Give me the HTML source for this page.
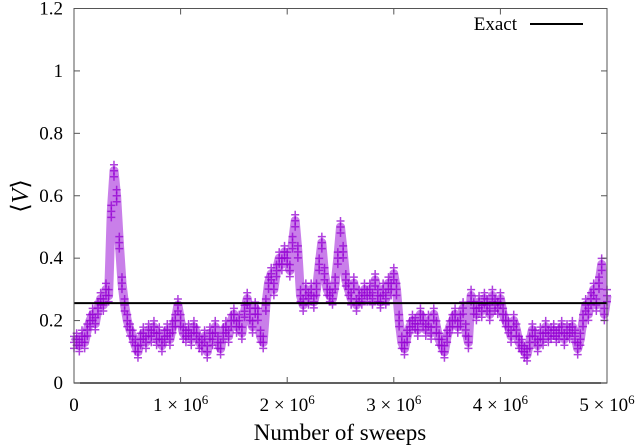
<!DOCTYPE html>
<html><head><meta charset="utf-8"><style>
html,body{margin:0;padding:0;background:#fff;}
svg{display:block;font-family:"Liberation Serif",serif;}
</style></head><body>
<svg id="chart" width="640" height="446" viewBox="0 0 640 446" xmlns="http://www.w3.org/2000/svg">
<g id="series"></g>
<g id="axes"></g>
</svg>
<script>
const xTicks = [0, 1e6, 2e6, 3e6, 4e6, 5e6];
const xTickLabels = ["0", "1", "2", "3", "4", "5"];
const yTicks = [0, 0.2, 0.4, 0.6, 0.8, 1, 1.2];
const yTickLabels = ["0", "0.2", "0.4", "0.6", "0.8", "1", "1.2"];
const exactValue = 0.256;
const sweepStep = 25000;
const values = [
0.13,0.14,0.12,0.15,0.13,0.17,0.2,0.22,0.19,0.24,
0.27,0.25,0.3,0.28,0.55,0.68,0.6,0.45,0.32,0.25,
0.2,0.17,0.15,0.12,0.1,0.14,0.16,0.13,0.17,0.15,
0.18,0.14,0.16,0.12,0.15,0.17,0.14,0.18,0.2,0.25,
0.2,0.16,0.15,0.17,0.14,0.18,0.16,0.13,0.12,0.15,
0.1,0.16,0.14,0.18,0.13,0.11,0.16,0.18,0.15,0.2,
0.22,0.18,0.2,0.16,0.23,0.27,0.22,0.18,0.24,0.22,
0.15,0.13,0.25,0.32,0.35,0.3,0.36,0.4,0.38,0.42,
0.4,0.36,0.45,0.52,0.42,0.28,0.25,0.3,0.27,0.3,
0.26,0.3,0.38,0.45,0.35,0.3,0.28,0.27,0.32,0.4,
0.5,0.42,0.33,0.3,0.27,0.32,0.25,0.28,0.27,0.3,
0.28,0.3,0.27,0.33,0.28,0.26,0.3,0.27,0.32,0.3,
0.35,0.3,0.2,0.13,0.11,0.15,0.18,0.2,0.19,0.17,
0.22,0.2,0.17,0.2,0.16,0.22,0.18,0.14,0.12,0.1,
0.15,0.18,0.2,0.22,0.18,0.2,0.24,0.17,0.13,0.28,
0.24,0.22,0.26,0.23,0.27,0.25,0.22,0.28,0.25,0.24,
0.27,0.22,0.2,0.18,0.15,0.2,0.17,0.13,0.12,0.1,
0.09,0.13,0.17,0.15,0.12,0.16,0.14,0.18,0.15,0.16,
0.17,0.15,0.16,0.18,0.14,0.17,0.16,0.18,0.15,0.11,
0.14,0.2,0.25,0.22,0.27,0.3,0.25,0.32,0.38,0.22,
0.28];

const L=74, R=607, T=8.5, B=383;
const X = v => L + (v/5e6)*(R-L);
const Y = v => B - (v/1.2)*(B-T);
const NS="http://www.w3.org/2000/svg";
function mk(tag, attrs, parent){const e=document.createElementNS(NS,tag);for(const k in attrs)e.setAttribute(k,attrs[k]);parent.appendChild(e);return e;}
const series=document.getElementById('series');
const axes=document.getElementById('axes');

let pts=values.map((v,i)=>X(i*sweepStep).toFixed(1)+","+Y(v).toFixed(1)).join(" ");
const band=mk('polyline',{points:pts,fill:'none',stroke:'#9400d3','stroke-width':9,'stroke-opacity':0.5,'stroke-linejoin':'round'},series);


values.forEach((v,i)=>{
  const cx=X(i*sweepStep), cy=Y(v);
  [-6,0,6].forEach(off=>{
    const y=cy+off;
    const p=mk('path',{d:`M${cx-4},${y}H${cx+4}M${cx},${y-4}V${y+4}`,stroke:'#9400d3','stroke-width':1.5,fill:'none','stroke-opacity':0.75},series);
    
    
  });
});

const ex=mk('line',{x1:L,x2:R,y1:Y(exactValue),y2:Y(exactValue),stroke:'#000','stroke-width':2},axes);



const fr=mk('rect',{x:L,y:T,width:R-L,height:B-T,fill:'none',stroke:'#555','stroke-width':1},axes);


mk('line',{x1:L,x2:R,y1:B,y2:B,stroke:'#000','stroke-width':1.2},axes);

xTicks.forEach((t,i)=>{
  const x=X(t);
  mk('line',{x1:x,x2:x,y1:B,y2:B-6,stroke:'#555'},axes);
  mk('line',{x1:x,x2:x,y1:T,y2:T+6,stroke:'#555'},axes);
  const tx=mk('text',{x:x,y:411,'text-anchor':'middle','font-size':19,fill:'#000'},axes);
  
  
  if(i===0){tx.textContent=xTickLabels[i];}
  else{
    tx.textContent=xTickLabels[i]+" × 10";
    const s=document.createElementNS(NS,'tspan');s.setAttribute('dy','-7');s.setAttribute('font-size','13');s.textContent='6';tx.appendChild(s);
  }
});
yTicks.forEach((t,i)=>{
  const y=Y(t);
  mk('line',{x1:L,x2:L+6,y1:y,y2:y,stroke:'#555'},axes);
  mk('line',{x1:R,x2:R-6,y1:y,y2:y,stroke:'#555'},axes);
  const tx=mk('text',{x:63,y:y+6,'text-anchor':'end','font-size':19,fill:'#000'},axes);
  
  
  tx.textContent=yTickLabels[i];
});
</script>
<svg style="position:absolute;left:0;top:0" width="640" height="446" xmlns="http://www.w3.org/2000/svg">
<text x="340" y="440" text-anchor="middle" font-size="23" font-family="Liberation Serif,serif">Number of sweeps</text>
<text transform="translate(28,196) rotate(-90)" text-anchor="middle" font-size="24" font-family="Liberation Serif,serif">⟨<tspan font-style="italic">V</tspan>⟩</text>
<text x="517" y="30" text-anchor="end" font-size="19" font-family="Liberation Serif,serif">Exact</text>
<line x1="530" x2="583" y1="24" y2="24" stroke="#000" stroke-width="2"/>
</svg>
</body></html>
